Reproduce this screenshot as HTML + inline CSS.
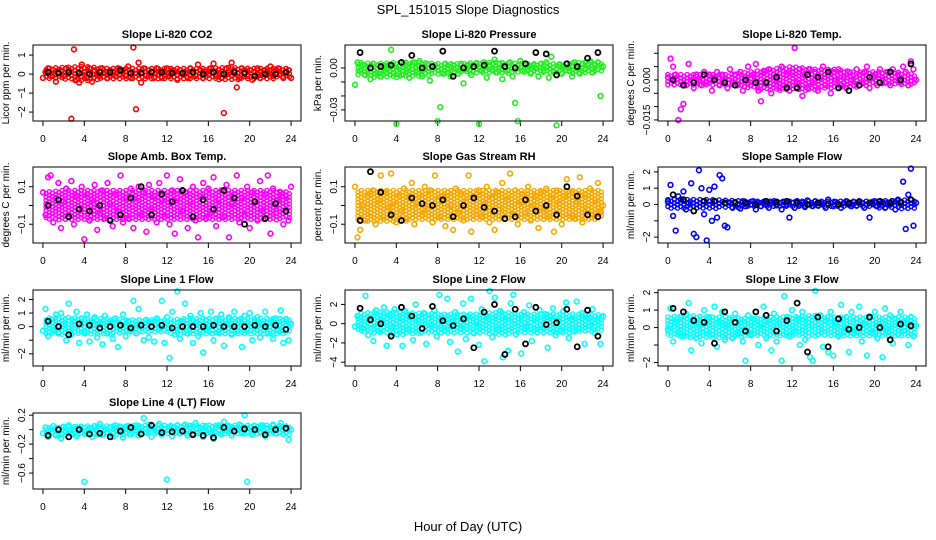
<!DOCTYPE html>
<html><head><meta charset="utf-8"><style>
body{margin:0;background:#fff;}
svg{display:block;font-family:"Liberation Sans",sans-serif;}
</style></head><body>
<svg id="chart" width="936" height="540">
<text x="468" y="14" text-anchor="middle" font-size="13">SPL_151015  Slope Diagnostics</text>
<text x="468" y="531" text-anchor="middle" font-size="13">Hour of Day (UTC)</text>
</svg>
<script>
const xTicks=[0,4,8,12,16,20,24];
const co2Vals=[-0.2,0.1,0.3,-0.1,0.2,-0.4,0.1,0.2,-0.1,0.3,0.2,-2.35,1.3,-0.3,-0.45,0.5,0.1,-0.2,0.3,-0.4,0.2,0.0,-0.1,0.3,0.1,-0.2,0.2,0.1,-0.1,0.3,0.0,0.2,-0.1,0.4,-0.2,1.4,-1.85,0.6,-0.45,0.3,-0.1,0.2,0.1,-0.2,0.3,0.0,-0.2,0.1,0.3,-0.1,0.2,0.1,-0.3,0.2,0.0,0.1,-0.2,0.3,0.1,-0.1,0.5,0.2,-0.2,0.1,0.0,0.3,0.55,-0.1,0.2,-0.2,-2.05,0.3,0.1,0.6,0.2,-0.7,-0.2,0.3,0.1,-0.1,0.2,-0.3,0.1,0.3,-0.2,0.0,0.2,0.1,0.4,-0.1,0.2,0.3,0.0,-0.2,0.1,0.2,-0.2];
const co2Hourly=[0.1,0.05,0.1,0.05,0.0,0.1,0.1,0.2,0.05,0.05,0.1,0.1,0.05,0.05,0.1,0.0,0.1,0.0,0.1,0.05,-0.1,0.0,0.0,0.1];
const co2BandHi=[0.3,0.35,0.4,0.3,0.3,0.3,0.3,0.3,0.3,0.35,0.3,0.3,0.3];
const co2BandLo=[-0.2,-0.3,-0.4,-0.3,-0.25,-0.3,-0.25,-0.25,-0.3,-0.3,-0.3,-0.25,-0.2];
const pressVals=[-0.012,0.004,-0.002,0.002,-0.005,0.001,-0.008,0.003,-0.004,0.002,-0.006,0.001,-0.003,0.002,0.013,-0.004,-0.040,0.001,-0.005,0.003,-0.002,-0.007,0.002,0.004,-0.003,0.005,-0.006,0.000,0.003,-0.009,-0.001,0.002,-0.038,-0.028,-0.004,0.003,-0.001,-0.006,0.002,0.000,-0.004,0.003,-0.011,-0.001,0.002,-0.005,0.001,0.003,-0.040,-0.002,0.004,-0.007,0.002,-0.001,0.006,-0.003,0.003,-0.008,0.001,-0.002,0.004,-0.006,-0.025,-0.038,0.005,-0.002,0.003,-0.001,-0.004,0.002,0.000,-0.006,0.003,-0.002,0.004,-0.007,0.008,-0.003,-0.041,0.002,-0.004,0.001,0.003,-0.002,-0.006,0.004,0.000,-0.004,0.003,-0.001,0.002,0.005,-0.003,0.002,0.004,-0.020,0.001];
const pressHourly=[0.011,0.000,0.001,0.002,0.004,0.009,0.000,0.001,0.012,-0.006,0.000,0.001,0.002,0.012,0.001,0.000,0.003,0.011,0.010,-0.005,0.003,0.001,0.007,0.011];
const pressBandHi=[0.004,0.003,0.004,0.004,0.003,0.003,0.004,0.004,0.003,0.003,0.003,0.004,0.004];
const pressBandLo=[-0.005,-0.007,-0.007,-0.006,-0.005,-0.004,-0.004,-0.004,-0.004,-0.004,-0.004,-0.004,-0.003];
const tempVals=[0.001,0.008,0.005,0.002,-0.015,-0.011,-0.009,-0.002,0.006,0.001,-0.003,0.002,0.000,-0.002,0.003,-0.001,0.002,-0.004,0.001,0.003,-0.002,0.002,0.000,-0.003,0.004,-0.001,0.002,-0.002,0.003,-0.004,0.001,0.005,-0.002,0.002,0.006,-0.004,-0.008,0.003,-0.001,0.004,-0.005,0.002,0.000,-0.003,0.005,-0.002,0.002,-0.004,0.003,0.012,-0.001,0.004,-0.006,0.002,-0.003,0.004,-0.001,0.003,-0.004,0.001,0.005,-0.002,0.002,-0.005,0.003,0.000,0.004,-0.002,0.001,-0.003,0.003,0.000,-0.002,0.004,0.002,-0.001,0.003,0.005,-0.003,0.001,0.002,-0.002,0.004,0.000,-0.001,0.003,-0.002,0.004,0.001,0.002,-0.001,0.005,0.003,-0.002,0.007,0.004,0.000];
const tempHourly=[0.000,-0.002,-0.001,0.002,0.000,-0.001,-0.002,0.000,-0.001,-0.001,0.001,-0.003,-0.003,0.002,0.001,0.003,-0.003,-0.004,-0.002,0.001,-0.001,0.003,0.000,0.006];
const tempBandHi=[0.002,0.002,0.002,0.002,0.003,0.004,0.005,0.004,0.004,0.003,0.003,0.003,0.002];
const tempBandLo=[-0.002,-0.002,-0.002,-0.002,-0.003,-0.004,-0.004,-0.004,-0.003,-0.003,-0.002,-0.002,-0.002];
const ambVals=[0.07,-0.05,0.15,0.16,-0.09,0.04,0.12,-0.12,0.02,0.09,-0.06,0.13,-0.1,0.05,-0.02,0.1,-0.18,0.06,-0.08,0.03,0.11,-0.13,-0.04,0.08,-0.07,0.12,0.01,-0.11,0.06,-0.03,0.16,-0.09,0.04,-0.07,0.09,-0.12,0.02,0.1,-0.05,0.07,-0.14,0.11,-0.02,0.05,-0.09,0.12,0.03,-0.06,0.16,-0.1,0.08,-0.15,0.04,0.14,-0.03,0.07,-0.12,0.02,0.1,-0.08,-0.17,0.05,0.12,-0.07,0.09,-0.04,0.15,-0.11,0.03,0.08,-0.06,0.11,-0.17,0.01,0.06,0.16,-0.09,0.04,-0.05,0.1,-0.12,0.07,0.02,-0.08,0.13,-0.03,0.06,0.16,-0.15,0.09,-0.04,0.03,0.07,-0.1,0.05,-0.08,0.1];
const ambHourly=[0.0,0.03,-0.06,-0.02,-0.03,0.0,-0.08,-0.05,0.04,0.1,-0.05,0.06,0.02,0.08,-0.06,0.03,-0.02,0.08,0.04,-0.1,0.02,-0.07,0.01,-0.03];
const ambBandHi=[0.07,0.08,0.08,0.08,0.08,0.08,0.08,0.08,0.08,0.08,0.08,0.08,0.07];
const ambBandLo=[-0.07,-0.08,-0.08,-0.08,-0.08,-0.08,-0.08,-0.08,-0.08,-0.08,-0.08,-0.08,-0.07];
const rhVals=[0.1,-0.17,-0.13,0.0,-0.08,0.05,-0.04,0.08,-0.1,0.03,0.16,-0.06,0.07,-0.01,0.17,0.02,-0.09,0.05,-0.03,0.09,-0.07,0.04,0.12,-0.1,0.01,0.06,-0.05,0.1,-0.02,0.08,-0.09,0.16,0.03,-0.06,0.05,-0.11,0.07,0.0,-0.13,0.09,-0.04,0.06,-0.08,0.02,0.16,-0.14,0.05,-0.03,0.08,-0.06,0.01,0.1,-0.09,0.04,-0.13,0.07,-0.02,0.12,-0.07,0.03,0.17,-0.05,0.08,-0.1,0.02,0.06,-0.04,0.1,-0.08,0.0,0.05,-0.12,0.07,-0.03,0.09,-0.06,0.04,-0.14,0.08,0.01,-0.1,0.05,0.14,-0.04,0.07,-0.07,0.02,0.15,-0.09,0.06,-0.02,0.09,-0.05,0.03,0.12,-0.03,0.0];
const rhHourly=[-0.08,0.18,0.07,-0.05,-0.08,0.04,0.01,0.0,0.03,-0.06,0.0,0.04,-0.01,-0.03,-0.07,-0.06,0.03,-0.03,0.0,-0.05,0.1,0.05,-0.05,-0.06];
const rhBandHi=[0.08,0.08,0.08,0.08,0.08,0.08,0.08,0.08,0.08,0.08,0.08,0.08,0.08];
const rhBandLo=[-0.08,-0.09,-0.09,-0.08,-0.08,-0.08,-0.08,-0.08,-0.08,-0.08,-0.08,-0.08,-0.07];
const sflowVals=[0.2,1.2,-0.7,-1.6,0.5,0.3,0.8,-0.3,0.1,1.3,-1.8,-2.0,2.1,1.0,-0.6,-2.2,0.9,-1.0,1.1,-0.8,1.8,1.6,-1.3,-1.4,0.1,-0.2,0.15,0.0,-0.25,0.2,-0.1,0.1,0.0,0.2,-0.3,0.1,-0.1,0.15,0.0,-0.2,0.1,0.2,-0.05,0.1,-0.3,0.15,0.0,-0.8,0.1,-0.2,0.2,0.0,0.1,-0.15,0.25,0.0,-0.1,0.2,-0.05,0.1,0.0,-0.2,0.3,0.1,-0.1,0.15,0.0,-0.2,0.1,0.2,0.0,-0.1,0.15,-0.05,0.2,0.1,-0.2,0.0,-0.8,0.1,0.2,-0.1,0.05,0.15,-0.2,0.1,0.0,0.2,-0.3,0.3,0.1,1.4,-1.5,0.6,2.2,-1.3,0.1];
const sflowHourly=[0.6,0.3,-0.4,0.2,0.2,0.1,0.1,0.1,0.0,0.2,0.15,0.2,0.1,0.0,0.1,0.05,0.0,0.1,0.15,0.1,0.2,0.1,0.15,0.3];
const sflowBandHi=[0.3,0.3,0.3,0.25,0.2,0.2,0.2,0.2,0.2,0.2,0.2,0.25,0.3];
const sflowBandLo=[-0.3,-0.3,-0.3,-0.2,-0.2,-0.2,-0.2,-0.2,-0.2,-0.2,-0.2,-0.25,-0.3];
const l1Vals=[-0.3,1.3,-0.7,0.5,-0.3,0.9,-0.5,1.0,0.2,-1.0,1.7,-0.6,0.4,1.1,-1.2,0.6,-0.4,0.9,-1.1,0.3,0.7,-0.8,0.2,-1.3,0.8,-0.5,0.3,-0.9,0.6,-1.5,0.1,0.9,-0.7,0.4,-0.3,1.9,-0.5,1.3,0.2,-1.0,0.5,-0.8,0.3,-1.1,0.6,-0.2,1.9,-1.2,0.7,-2.3,1.1,-0.6,2.6,-0.9,0.4,1.7,-0.5,0.8,-1.2,0.3,-0.7,1.0,-1.9,0.5,-0.3,1.1,-1.0,0.6,-0.4,0.9,-1.4,0.2,0.7,-0.6,1.1,-0.3,0.5,-1.5,0.8,-0.2,1.0,-1.0,0.4,0.7,-0.8,0.2,1.1,-0.5,0.3,-0.9,0.6,-0.3,1.2,-1.2,0.5,-1.0,0.2];
const l1Hourly=[0.4,0.0,-0.6,0.2,0.1,-0.1,0.0,0.1,-0.1,0.1,0.0,0.1,-0.1,0.0,0.0,0.0,0.1,0.0,0.0,0.0,0.1,0.0,0.1,-0.2];
const l1BandHi=[0.6,0.7,0.6,0.6,0.5,0.5,0.5,0.6,0.6,0.6,0.6,0.6,0.6];
const l1BandLo=[-0.5,-0.6,-0.6,-0.6,-0.5,-0.5,-0.5,-0.6,-0.6,-0.6,-0.6,-0.6,-0.5];
const l2Vals=[-0.3,0.8,1.6,-0.5,2.9,-1.2,0.6,-1.8,1.4,-0.8,0.3,1.7,-2.3,0.9,-0.4,1.5,-1.1,0.2,-2.3,1.3,-0.6,0.8,-1.7,2.0,0.4,-0.9,1.1,-2.1,0.6,-0.2,1.4,-1.3,3.0,0.5,-0.7,2.6,-1.9,0.3,1.2,-2.9,-0.5,2.1,-1.6,0.7,2.6,-1.0,0.2,-2.2,1.5,-3.9,0.8,3.4,-1.4,2.7,-0.6,1.3,-3.5,0.4,-2.8,2.1,3.0,-1.1,0.5,-3.1,1.2,-0.3,1.9,-1.8,0.6,-0.9,1.4,-0.4,1.0,-2.5,0.7,1.6,-1.2,0.3,-0.7,1.3,2.2,-1.5,0.4,-0.8,2.3,-0.5,1.1,-2.1,0.6,-0.2,1.5,-1.0,0.3,-2.1,0.8];
const l2Hourly=[1.6,0.4,0.0,-1.3,1.7,0.8,-0.5,1.8,0.3,-0.2,0.5,-2.5,1.2,2.0,-3.2,1.5,-2.1,1.7,-0.1,0.1,1.5,-2.4,1.4,-1.3];
const l2BandHi=[1.0,1.2,1.2,1.1,1.0,1.0,1.0,1.2,1.0,1.0,1.0,1.0,0.9];
const l2BandLo=[-0.8,-1.0,-1.2,-1.1,-1.0,-1.0,-1.0,-1.2,-1.0,-1.0,-1.0,-0.9,-0.8];
const l3Vals=[-0.1,1.1,-0.8,0.3,-0.3,0.6,-0.5,0.8,1.4,-1.3,0.4,-0.6,0.2,-0.9,1.0,-0.2,0.6,-0.4,1.2,-1.1,0.3,0.9,-0.7,0.1,0.5,-0.6,0.8,-0.3,0.3,-0.8,-1.9,0.7,-0.4,0.5,0.9,-1.0,0.2,1.2,-0.6,0.4,-1.3,0.8,-0.8,0.3,-1.9,1.8,0.6,-0.5,1.0,-0.2,0.5,-1.0,0.9,-0.7,0.3,-1.7,-1.9,2.1,-0.4,0.7,-1.1,0.4,-1.4,0.9,-1.6,0.3,-0.5,1.3,-0.2,0.6,-1.4,0.9,-0.3,0.5,1.2,-0.8,0.2,-1.6,0.6,-0.3,0.9,-0.6,0.4,-1.7,1.1,-0.2,0.7,-0.9,0.5,-0.4,0.9,-0.2,0.3,-1.0,0.6,-0.5,0.1];
const l3Hourly=[1.1,0.9,0.4,0.3,-0.9,0.9,0.3,-0.2,0.9,0.7,-0.2,0.4,1.4,-1.4,0.6,-1.1,0.5,-0.1,0.0,0.6,0.0,-0.7,0.2,0.1];
const l3BandHi=[0.6,0.7,0.6,0.6,0.5,0.6,0.6,0.7,0.6,0.6,0.6,0.6,0.6];
const l3BandLo=[-0.5,-0.6,-0.6,-0.6,-0.5,-0.5,-0.5,-0.5,-0.5,-0.5,-0.5,-0.5,-0.5];
const l4Vals=[-0.05,0.03,-0.1,0.0,0.05,-0.08,0.02,-0.12,0.04,-0.03,0.06,-0.06,0.01,-0.09,0.03,0.0,-0.72,-0.05,0.02,-0.1,0.05,-0.02,0.08,-0.07,0.0,-0.04,0.03,-0.1,0.06,-0.02,0.04,-0.11,0.01,0.05,-0.06,0.02,0.06,-0.08,0.03,0.16,-0.04,0.07,-0.1,0.02,-0.03,0.08,-0.07,0.01,-0.69,0.04,-0.09,0.03,0.06,-0.05,0.0,0.07,-0.08,0.03,-0.02,0.09,-0.05,0.02,-0.1,0.05,0.01,-0.04,-0.13,0.03,0.06,-0.06,0.11,-0.02,0.04,-0.08,0.02,0.0,0.07,-0.05,0.2,-0.72,0.03,-0.07,0.05,0.01,-0.04,0.06,-0.09,0.02,0.0,0.07,-0.05,0.03,0.09,-0.06,0.02,-0.14,0.0];
const l4Hourly=[-0.08,0.0,-0.1,0.0,-0.06,-0.05,-0.1,-0.02,0.03,-0.06,0.06,-0.04,-0.03,-0.02,-0.07,-0.08,-0.11,0.03,-0.02,0.01,0.0,-0.07,0.0,0.02];
const l4BandHi=[0.02,0.04,0.05,0.05,0.05,0.06,0.06,0.06,0.06,0.06,0.06,0.06,0.05];
const l4BandLo=[-0.08,-0.09,-0.09,-0.09,-0.09,-0.08,-0.08,-0.08,-0.08,-0.08,-0.08,-0.08,-0.07];

const NS="http://www.w3.org/2000/svg";
const svg=document.getElementById('chart');
function mk(tag,attrs,parent){const e=document.createElementNS(NS,tag);for(const k in attrs)e.setAttribute(k,attrs[k]);(parent||svg).appendChild(e);return e;}
const colL=[33,345,658], colW=268, rowT=[45,167,290,413], rowH=76;
const panels=[
 {t:"Slope Li-820 CO2",yl:"Licor ppm per min.",c:"#ff0000",v:co2Vals,h:co2Hourly,bh:co2BandHi,bl:co2BandLo,lo:-2.47,hi:1.53,ticks:[1,0,-1,-2],labs:["1","0","\u22121","\u22122"],r:0,col:0,n:"co2"},
 {t:"Slope Li-820 Pressure",yl:"kPa per min.",c:"#22ee22",v:pressVals,h:pressHourly,bh:pressBandHi,bl:pressBandLo,lo:-0.0379,hi:0.0164,ticks:[0,-0.01,-0.02,-0.03],labs:["0.00","","","\u22120.03"],r:0,col:1,n:"pressure"},
 {t:"Slope Li-820 Temp.",yl:"degrees C per min.",c:"#ff00ff",v:tempVals,h:tempHourly,bh:tempBandHi,bl:tempBandLo,lo:-0.0154,hi:0.0131,ticks:[0.01,0.005,0,-0.005,-0.01,-0.015],labs:["","","0.000","","","\u22120.015"],r:0,col:2,n:"li820-temp"},
 {t:"Slope Amb. Box Temp.",yl:"degrees C per min.",c:"#ff00ff",v:ambVals,h:ambHourly,bh:ambBandHi,bl:ambBandLo,lo:-0.2,hi:0.205,ticks:[0.1,0,-0.1],labs:["0.1","","\u22120.1"],r:1,col:0,n:"amb-temp"},
 {t:"Slope Gas Stream RH",yl:"percent per min.",c:"#f7a800",v:rhVals,h:rhHourly,bh:rhBandHi,bl:rhBandLo,lo:-0.2,hi:0.205,ticks:[0.1,0,-0.1],labs:["0.1","","\u22120.1"],r:1,col:1,n:"rh"},
 {t:"Slope Sample Flow",yl:"ml/min per min.",c:"#0000ff",v:sflowVals,h:sflowHourly,bh:sflowBandHi,bl:sflowBandLo,lo:-2.36,hi:2.3,ticks:[2,1,0,-1,-2],labs:["2","1","0","","\u22122"],r:1,col:2,n:"sample-flow"},
 {t:"Slope Line 1 Flow",yl:"ml/min per min.",c:"#00ffff",v:l1Vals,h:l1Hourly,bh:l1BandHi,bl:l1BandLo,lo:-2.9,hi:2.7,ticks:[2,1,0,-1,-2],labs:["2","1","0","","\u22122"],r:2,col:0,n:"line1-flow"},
 {t:"Slope Line 2 Flow",yl:"ml/min per min.",c:"#00ffff",v:l2Vals,h:l2Hourly,bh:l2BandHi,bl:l2BandLo,lo:-4.4,hi:3.5,ticks:[2,0,-2,-4],labs:["2","0","\u22122","\u22124"],r:2,col:1,n:"line2-flow"},
 {t:"Slope Line 3 Flow",yl:"ml/min per min.",c:"#00ffff",v:l3Vals,h:l3Hourly,bh:l3BandHi,bl:l3BandLo,lo:-2.2,hi:2.15,ticks:[2,1,0,-1,-2],labs:["2","1","0","","\u22122"],r:2,col:2,n:"line3-flow"},
 {t:"Slope Line 4 (LT) Flow",yl:"ml/min per min.",c:"#00ffff",v:l4Vals,h:l4Hourly,bh:l4BandHi,bl:l4BandLo,lo:-0.82,hi:0.23,ticks:[0.2,0,-0.2,-0.4,-0.6],labs:["0.2","","\u22120.2","","\u22120.6"],r:3,col:0,n:"line4-flow"}
];
function interp(arr,x){const f=x/2,i=Math.min(Math.floor(f),arr.length-2),t=f-i;return arr[i]*(1-t)+arr[i+1]*t;}
panels.forEach(p=>{
 const L=colL[p.col],T=rowT[p.r],B=T+rowH,R=L+colW;
 const g=mk('g',{});
 
 
 const xs=x=>L+(x+0.96)/25.92*colW;
 const ys=y=>T+(p.hi-y)/(p.hi-p.lo)*rowH;
 const tt=mk('text',{x:(L+R)/2,y:T-7,'text-anchor':'middle','font-size':'11','font-weight':'bold'},g);tt.textContent=p.t;
 
 
 const yl=mk('text',{x:0,y:0,'text-anchor':'middle','font-size':'10',transform:`translate(${L-24},${(T+B)/2}) rotate(-90)`},g);yl.textContent=p.yl;
 
 
 p.ticks.forEach((v,i)=>{const y=ys(v);mk('line',{x1:L-4,x2:L,y1:y,y2:y,stroke:'#000'},g);
  if(p.labs[i]){const t=mk('text',{x:0,y:0,'text-anchor':'middle','font-size':'10',transform:`translate(${L-8},${y}) rotate(-90)`},g);t.textContent=p.labs[i];
  
  }});
 xTicks.forEach(v=>{const x=xs(v);mk('line',{x1:x,x2:x,y1:B,y2:B+5,stroke:'#000'},g);
  const t=mk('text',{x:x,y:B+21,'text-anchor':'middle','font-size':'10'},g);t.textContent=v;
  
  });
 mk('line',{x1:xs(0),x2:xs(24),y1:B,y2:B,stroke:'#000'},g);
 // dense band of observations (envelope from band arrays)
 const band=mk('g',{fill:'none',stroke:p.c,'stroke-width':1.3},g);
 
 
 let k=0;
 for(let px=xs(0);px<=xs(24);px+=3.2){
  const hr=(px-L)/colW*25.92-0.96;
  const yTop=ys(interp(p.bh,hr)), yBot=ys(interp(p.bl,hr));
  const off=(k++%2)*1.6;
  for(let py=yTop+off;py<=yBot;py+=3.4){mk('circle',{cx:px.toFixed(1),cy:py.toFixed(1),r:2.1},band);}
 }
 p.v.forEach((v,i)=>{const c=mk('circle',{cx:xs(i*24/(p.v.length-1)),cy:ys(v),r:2.4,fill:'none',stroke:p.c,'stroke-width':1.6},g);
  
  });
 p.h.forEach((v,i)=>{const c=mk('circle',{cx:xs(i+0.5),cy:ys(v),r:2.5,fill:'none',stroke:'#000','stroke-width':1.8},g);
  
  });
 const box=mk('rect',{x:L,y:T,width:colW,height:rowH,fill:'none',stroke:'#000'},g);
 
 
});
</script>
</body></html>
